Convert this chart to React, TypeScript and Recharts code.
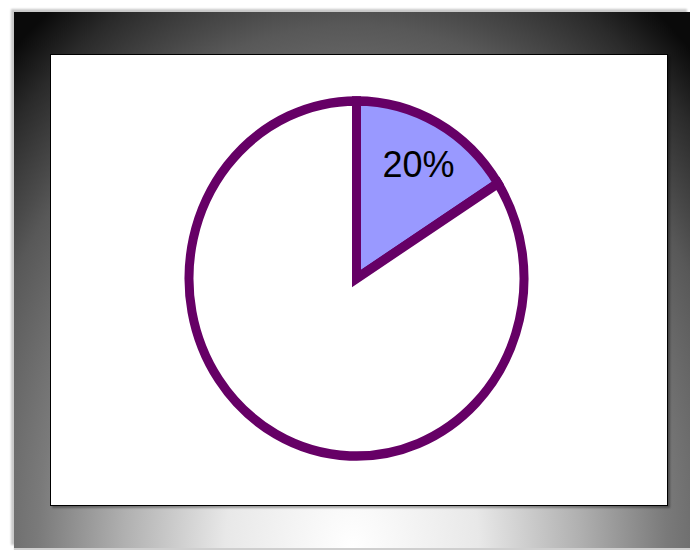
import React from 'react';
import { PieChart, Pie, Cell } from 'recharts';

// slice values, label text as printed
const categories = ['Part', 'Rest'];
const values = [16, 84];
const labels = ['20%', ''];
const COLORS = ['#9999FF', '#FFFFFF'];

const data = categories.map((name, i) => ({ name, value: values[i], label: labels[i] }));

const STRETCH = 1.06; // the pie is drawn slightly taller than wide
const RADIAN = Math.PI / 180;
const CX = 305.5;
const CY = 223.5;

const renderLabel = ({ cx, cy, midAngle, outerRadius, index }: any) => {
  const text = labels[index];
  if (!text) return null;
  const r = outerRadius * 0.73;
  const x = cx + r * Math.cos(-midAngle * RADIAN) + 3;
  const y = cy + r * Math.sin(-midAngle * RADIAN);
  return (
    <g transform={`translate(${x},${y}) scale(1,${1 / STRETCH})`}>
      <text
        x={0}
        y={0}
        textAnchor="middle"
        dominantBaseline="central"
        fill="#000"
        fontSize={36}
        fontFamily="'Liberation Sans', Arial, sans-serif"
      >
        {text}
      </text>
    </g>
  );
};

const App: React.FC = () => {
  return (
    <div style={{ position: 'absolute', left: 0, top: 0, width: 690, height: 550, background: '#fff', overflow: 'hidden' }}>
      {/* outer frame */}
      <div
        style={{
          position: 'absolute',
          left: 14,
          top: 12,
          width: 676,
          height: 536,
          background:
            'radial-gradient(ellipse 75% 125% at 50% 100%, #ffffff 0%, #e8e8e8 25%, #b0b0b0 45%, #7a7a7a 62%, #585858 78%, #4a4a4a 82%, #2a2a2a 92%, #0a0a0a 100%)',
          boxShadow: '-3px -3px 2px #c8c8c8, 0 2px 1px #cfcfcf',
        }}
      />
      {/* plot panel */}
      <div
        style={{
          position: 'absolute',
          left: 50,
          top: 54,
          width: 618,
          height: 452,
          boxSizing: 'border-box',
          border: '1px solid #000',
          background: '#fff',
          boxShadow: '2px 2px 2px rgba(0,0,0,0.35)',
        }}
      >
        <div style={{ width: 616, height: 450, transform: `scaleY(${STRETCH})`, transformOrigin: `${CX}px ${CY}px` }}>
          <PieChart width={616} height={450} margin={{ top: 0, right: 0, bottom: 0, left: 0 }}>
            <Pie
              data={data}
              dataKey="value"
              cx={CX}
              cy={CY}
              outerRadius={167.5}
              startAngle={90}
              endAngle={-270}
              stroke="#660066"
              strokeWidth={9}
              labelLine={false}
              label={renderLabel}
              isAnimationActive={false}
            >
              {data.map((entry, index) => (
                <Cell key={`cell-${index}`} fill={COLORS[index % COLORS.length]} />
              ))}
            </Pie>
          </PieChart>
        </div>
      </div>
    </div>
  );
};

export default App;
